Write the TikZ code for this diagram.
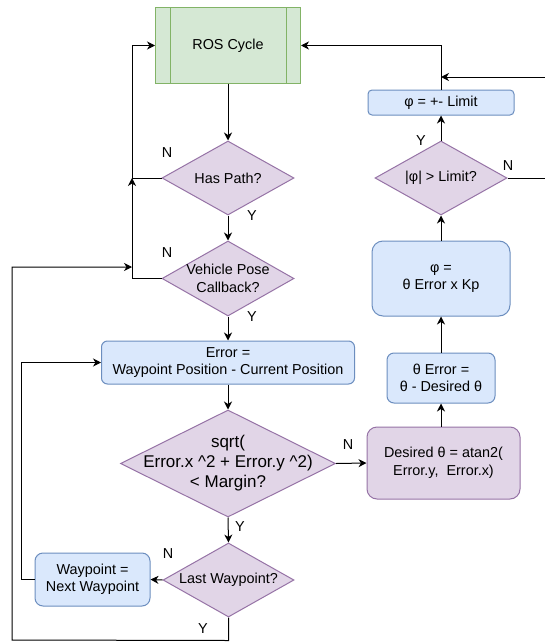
\documentclass[tikz,border=0pt]{standalone}
\usepackage{fontspec}
\setmainfont{Liberation Sans}
\usetikzlibrary{shapes.geometric,arrows.meta}
\definecolor{gfill}{HTML}{D5E8D4}
\definecolor{gline}{HTML}{82B366}
\definecolor{bfill}{HTML}{DAE8FC}
\definecolor{bline}{HTML}{6C8EBF}
\definecolor{pfill}{HTML}{E1D5E7}
\definecolor{pline}{HTML}{9673A6}
\begin{document}
\begin{tikzpicture}[x=1pt,y=-1pt,
  txt/.style={font=\fontsize{14.4}{17.5}\selectfont, align=center, inner sep=0},
  bigtxt/.style={font=\fontsize{17}{20}\selectfont, align=center, inner sep=0},
  box/.style={draw=bline, fill=bfill, line width=1pt, inner sep=0, txt},
  pbox/.style={draw=pline, fill=pfill, line width=1pt, inner sep=0, txt},
  gbox/.style={draw=gline, fill=gfill, line width=1pt, inner sep=0, txt},
  dia/.style={diamond, draw=pline, fill=pfill, line width=1pt, inner sep=0},
  arr/.style={line width=1pt, -{Stealth[length=8pt,width=8pt,inset=2.5pt]}},
  lbl/.style={font=\fontsize{14.4}{17}\selectfont, inner sep=0}
]
\fill[white] (0,0) rectangle (545,642);
\clip (0,0) rectangle (545,642);

% left column
\node[gbox, minimum width=145, minimum height=75] (ros) at (228,45.5) {ROS Cycle};
\draw[gline, line width=1pt] ([xshift=15pt]ros.north west) -- ([xshift=15pt]ros.south west);
\draw[gline, line width=1pt] ([xshift=-15pt]ros.north east) -- ([xshift=-15pt]ros.south east);

\node[dia, minimum width=132, minimum height=74] (hp) at (228,178) {};
\node[txt] (hpt) at (hp) {Has Path?};

\node[dia, minimum width=132, minimum height=75] (vp) at (228,278.5) {};
\node[txt] (vpt) at (vp) {Vehicle Pose\\Callback?};

\node[box, rounded corners=6pt, minimum width=253, minimum height=43] (err) at (228,362.5)
  {Error =\\Waypoint Position - Current Position};

\node[dia, minimum width=215, minimum height=107] (sq) at (228,463.5) {};
\node[bigtxt] (sqt) at (sq) {sqrt(\\Error.x \^{}2 + Error.y \^{}2)\\\textless{} Margin?};

\node[dia, minimum width=131, minimum height=74] (lw) at (228.5,580) {};
\node[txt] (lwt) at (lw) {Last Waypoint?};

\node[box, rounded corners=8pt, minimum width=115, minimum height=53] (wp) at (92.5,579.5)
  {Waypoint =\\Next Waypoint};

% right column
\node[pbox, rounded corners=10pt, minimum width=153, minimum height=72] (des) at (443.5,463)
  {Desired θ = atan2(\\Error.y,\ \ Error.x)};
\node[box, rounded corners=7pt, minimum width=108, minimum height=50] (te) at (441,378)
  {θ Error =\\θ - Desired θ};
\node[box, rounded corners=11pt, minimum width=138, minimum height=75] (phi) at (441,278.5)
  {φ =\\θ Error x Kp};
\node[dia, minimum width=132, minimum height=74] (lim) at (441,178) {};
\node[txt] (limt) at (lim) {|φ| > Limit?};
\node[box, rounded corners=4pt, minimum width=146, minimum height=25] (plim) at (441,102.5)
  {φ = +- Limit};

% junction points
\coordinate (j1) at (132,178);
\coordinate (j2) at (441,77);
\coordinate (j3) at (132,267);

% connectors
\draw[arr] (ros.south) -- (hp.north);
\draw[arr] (hp.west) -- (j1) |- (ros.west);
\draw[arr] (hp.south) -- (vp.north);
\draw[arr] (vp.west) -| (j1);
\draw[arr] (vp.south) -- (err.north);
\draw[arr] (err.south) -- (sq.north);
\draw[arr] (sq.east) -- (des.west);
\draw[arr] (sq.south) -- (lw.north);
\draw[arr] (lw.west) -- (wp.east);
\draw[arr] (wp.west) -- ++(-13,0) |- (err.west);
\draw[arr] (lw.south) -- ++(0,23) -- (12,640) |- (j3);
\draw[arr] (te.south |- des.north) -- (te.south);
\draw[arr] (te.north) -- (phi.south);
\draw[arr] (phi.north) -- (lim.south);
\draw[arr] (lim.north) -- (plim.south);
\draw[arr] (lim.east) -- ++(60,0) |- (j2);
\draw[arr] (plim.north) |- (ros.east);

% labels
\node[lbl] (l1) at (167,153) {N};
\node[lbl] (l2) at (252,216) {Y};
\node[lbl] (l3) at (167,253) {N};
\node[lbl] (l4) at (252,317) {Y};
\node[lbl] (l5) at (348,445) {N};
\node[lbl] (l6) at (240,527) {Y};
\node[lbl] (l7) at (168,554) {N};
\node[lbl] (l8) at (203,629) {Y};
\node[lbl] (l9) at (421,141) {Y};
\node[lbl] (l10) at (508,166) {N};
\end{tikzpicture}
\end{document}
